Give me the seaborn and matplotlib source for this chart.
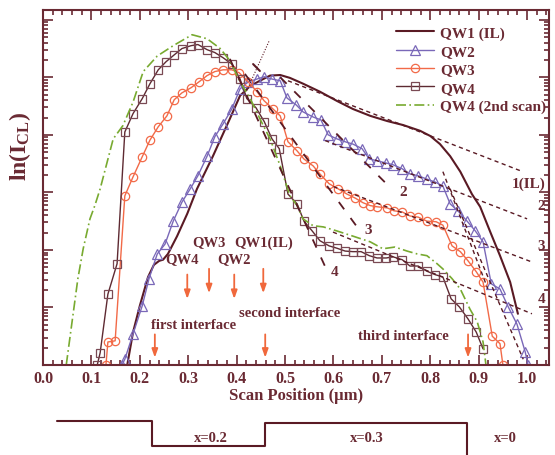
import numpy as np
import seaborn as sns
import matplotlib.pyplot as plt
import matplotlib.transforms as mtransforms

# values are log10 of intensity (decades)
qw1_x = [0.174, 0.186, 0.200, 0.217, 0.229, 0.240, 0.248, 0.258, 0.277, 0.298, 0.318, 0.351,
         0.386, 0.407, 0.428, 0.448, 0.469, 0.490, 0.510, 0.537, 0.572, 0.607, 0.640, 0.676,
         0.711, 0.744, 0.779, 0.800, 0.820, 0.841, 0.862, 0.886, 0.903, 0.924, 0.944, 0.965, 0.981]
qw1_y = [0.00, 0.57, 1.03, 1.53, 1.74, 1.81, 1.83, 1.93, 2.24, 2.63, 3.06, 3.63,
         4.28, 4.68, 4.85, 4.94, 5.03, 5.04, 4.99, 4.89, 4.75, 4.59, 4.45, 4.33,
         4.24, 4.17, 4.07, 3.98, 3.84, 3.63, 3.36, 2.97, 2.75, 2.31, 1.90, 1.44, 0.89]

qw2_x = [0.163, 0.169, 0.186, 0.205, 0.219, 0.236, 0.252, 0.269, 0.287, 0.304, 0.320, 0.339,
         0.355, 0.372, 0.390, 0.407, 0.424, 0.442, 0.457, 0.473, 0.490, 0.504, 0.523, 0.537,
         0.558, 0.574, 0.589, 0.607, 0.624, 0.640, 0.659, 0.674, 0.690, 0.709, 0.723, 0.742,
         0.758, 0.775, 0.793, 0.810, 0.826, 0.841, 0.857, 0.876, 0.893, 0.909, 0.926, 0.944,
         0.961, 0.979, 0.996, 1.002]
qw2_y = [0.00, 0.10, 0.54, 1.03, 1.50, 1.93, 2.10, 2.50, 2.83, 3.06, 3.29, 3.63,
         3.97, 4.19, 4.45, 4.80, 4.92, 4.97, 5.01, 4.97, 4.94, 4.64, 4.52, 4.40,
         4.31, 4.26, 4.00, 3.93, 3.88, 3.84, 3.76, 3.58, 3.55, 3.51, 3.48, 3.41,
         3.32, 3.29, 3.23, 3.18, 3.11, 2.80, 2.68, 2.50, 2.33, 2.14, 1.41, 1.32,
         1.01, 0.71, 0.23, 0.00]

qw3_x = [0.130, 0.134, 0.149, 0.169, 0.186, 0.205, 0.221, 0.238, 0.256, 0.271, 0.287, 0.306,
         0.322, 0.339, 0.355, 0.372, 0.390, 0.405, 0.424, 0.442, 0.457, 0.475, 0.490, 0.506,
         0.525, 0.539, 0.558, 0.572, 0.591, 0.610, 0.628, 0.645, 0.661, 0.676, 0.690, 0.711,
         0.725, 0.742, 0.758, 0.775, 0.793, 0.812, 0.826, 0.845, 0.862, 0.878, 0.895, 0.909,
         0.928, 0.944, 0.950]
qw3_y = [0.00, 0.40, 0.42, 2.94, 3.27, 3.62, 3.91, 4.14, 4.33, 4.61, 4.73, 4.82,
         4.92, 5.03, 5.10, 5.13, 5.13, 5.08, 4.92, 4.75, 4.59, 4.45, 4.33, 3.88,
         3.72, 3.58, 3.46, 3.32, 3.15, 3.06, 2.97, 2.90, 2.82, 2.77, 2.75, 2.73,
         2.68, 2.66, 2.59, 2.57, 2.50, 2.49, 2.43, 2.07, 1.97, 1.81, 1.62, 1.44,
         0.50, 0.37, 0.00]

qw4_x = [0.112, 0.118, 0.134, 0.153, 0.169, 0.186, 0.205, 0.221, 0.238, 0.254, 0.271, 0.287,
         0.306, 0.320, 0.339, 0.355, 0.372, 0.390, 0.407, 0.421, 0.440, 0.457, 0.473, 0.488,
         0.506, 0.525, 0.539, 0.556, 0.572, 0.591, 0.607, 0.624, 0.640, 0.657, 0.674, 0.690,
         0.709, 0.723, 0.742, 0.758, 0.775, 0.793, 0.810, 0.826, 0.843, 0.860, 0.878, 0.895,
         0.909]
qw4_y = [0.00, 0.21, 1.23, 1.76, 4.05, 4.37, 4.63, 4.89, 5.13, 5.27, 5.39, 5.50,
         5.55, 5.57, 5.48, 5.43, 5.34, 5.23, 4.97, 4.63, 4.47, 4.23, 3.93, 3.76,
         2.97, 2.80, 2.50, 2.33, 2.16, 2.07, 2.03, 1.98, 1.97, 1.97, 1.90, 1.86,
         1.86, 1.88, 1.83, 1.72, 1.72, 1.63, 1.57, 1.53, 1.15, 1.01, 0.80, 0.57,
         0.28]

qw4b_x = [0.048, 0.060, 0.072, 0.083, 0.097, 0.107, 0.118, 0.145, 0.165, 0.186, 0.207, 0.236,
          0.269, 0.308, 0.339, 0.366, 0.386, 0.407, 0.428, 0.448, 0.469, 0.490, 0.510, 0.525,
          0.537, 0.558, 0.579, 0.607, 0.640, 0.676, 0.702, 0.727, 0.752, 0.773, 0.793, 0.814,
          0.826, 0.845, 0.862, 0.882, 0.897, 0.909, 0.915]
qw4b_y = [0.00, 0.75, 1.50, 2.02, 2.54, 2.77, 3.06, 3.93, 4.16, 4.57, 5.10, 5.37,
          5.55, 5.74, 5.67, 5.50, 5.29, 4.92, 4.63, 4.28, 3.93, 3.46, 2.94, 2.77,
          2.54, 2.42, 2.40, 2.33, 2.24, 2.14, 2.02, 2.05, 1.98, 1.93, 1.90, 1.76,
          1.67, 1.50, 1.32, 0.97, 0.75, 0.40, 0.00]

# fitted slopes
fit_short = {
    "1(IL)": ([0.506, 0.991], [4.94, 3.36]),
    "2": ([0.583, 1.000], [3.90, 2.54]),
    "3": ([0.600, 1.010], [3.10, 1.79]),
    "4": ([0.599, 1.010], [2.31, 0.89]),
}
fit_long = {
    "2": ([0.490, 0.720], [5.00, 3.06]),
    "3": ([0.417, 0.647], [5.06, 2.42]),
    "4": ([0.386, 0.585], [5.32, 1.67]),
}
fit_edge = [([0.826, 0.919], [3.36, 1.32]), ([0.841, 0.992], [3.06, 0.10])]
tangent = ([0.421, 0.467], [4.77, 5.63])

# arrows: QW peak positions and interfaces
peak_names = ["QW4", "QW3", "QW2", "QW1(IL)"]
peak_pos = [0.298, 0.343, 0.395, 0.455]
interface_names = ["first interface", "second interface", "third interface"]
interface_pos = [0.231, 0.459, 0.878]

# composition profile drawn under the axis
profile_x = [0.029, 0.225, 0.225, 0.458, 0.458, 0.875, 0.875]
profile_y = [-0.158, -0.158, -0.228, -0.228, -0.163, -0.163, -0.26]
comp_labels = ["x=0.2", "x=0.3", "x=0"]
comp_pos = [0.347, 0.669, 0.955]

maroon = "#6a2a33"
c_qw1 = "#5a1a24"
c_qw2 = "#7a68b8"
c_qw3 = "#f26a48"
c_qw4 = "#5e2a32"
c_qw4b = "#78aa30"
c_arrow = "#f0683c"

sns.set_style("ticks")
plt.rcParams["font.family"] = ["Liberation Serif", "DejaVu Serif"]
plt.rcParams["font.weight"] = "bold"
plt.rcParams["mathtext.fontset"] = "custom"
plt.rcParams["mathtext.bf"] = "Liberation Serif:bold"
plt.rcParams["mathtext.rm"] = "Liberation Serif:bold"

fig = plt.figure(figsize=(5.55, 4.56), dpi=100)
ax = fig.add_axes([0.0775, 0.1974, 0.9115, 0.7785])

sns.lineplot(x=qw1_x, y=np.power(10, qw1_y), ax=ax, color=c_qw1, lw=1.5, label="QW1 (IL)")
sns.lineplot(x=qw2_x, y=np.power(10, qw2_y), ax=ax, color=c_qw2, lw=1.0, marker="^", ms=6.5,
             mfc="none", mec=c_qw2, mew=0.9, label="QW2")
sns.lineplot(x=qw3_x, y=np.power(10, qw3_y), ax=ax, color=c_qw3, lw=1.0, marker="o", ms=6,
             mfc="none", mec=c_qw3, mew=0.9, label="QW3")
sns.lineplot(x=qw4_x, y=np.power(10, qw4_y), ax=ax, color=c_qw4, lw=1.0, marker="s", ms=5.5,
             mfc="none", mec="#7a4a54", mew=0.9, label="QW4")
sns.lineplot(x=qw4b_x, y=np.power(10, qw4b_y), ax=ax, color=c_qw4b, lw=1.2,
             label="QW4 (2nd scan)")
ax.lines[-1].set_dashes([6, 2, 1, 2])

for name, (fx, fy) in fit_short.items():
    ax.plot(fx, np.power(10, fy), color=c_qw1, lw=1.0, dashes=(3, 2.5))
for name, (fx, fy) in fit_long.items():
    ax.plot(fx, np.power(10, fy), color=c_qw1, lw=1.3, dashes=(5, 6))
for fx, fy in fit_edge:
    ax.plot(fx, np.power(10, fy), color=c_qw1, lw=1.0, dashes=(3, 2.5))
ax.plot(tangent[0], np.power(10, tangent[1]), color=c_qw1, lw=0.8, dashes=(1, 1.5))
ax.plot([0.434, 0.448], np.power(10, [5.23, 5.11]), color=c_qw1, lw=1.5)

# labels of fitted lines
ax.text(1.037, 10 ** 3.15, "1(IL)", ha="right", va="center", color=maroon, fontsize=11)
ax.text(1.037, 10 ** 2.77, "2", ha="right", va="center", color=maroon, fontsize=11)
ax.text(1.037, 10 ** 2.07, "3", ha="right", va="center", color=maroon, fontsize=11)
ax.text(1.037, 10 ** 1.15, "4", ha="right", va="center", color=maroon, fontsize=11)
ax.text(0.744, 10 ** 3.01, "2", ha="center", va="center", color=maroon, fontsize=11)
ax.text(0.671, 10 ** 2.35, "3", ha="center", va="center", color=maroon, fontsize=11)
ax.text(0.603, 10 ** 1.62, "4", ha="center", va="center", color=maroon, fontsize=11)

arrow_kw = dict(arrowstyle="-|>,head_length=0.5,head_width=0.18", color=c_arrow, lw=1.3)
peak_text_y = [1.84, 2.14, 1.84, 2.14]
peak_tail = [1.62, 1.72, 1.62, 1.72]
for name, px, ty, tail in zip(peak_names, peak_pos, peak_text_y, peak_tail):
    ax.text(px - 0.01 if name == "QW4" else px, 10 ** ty, name, ha="center", va="center",
            color=maroon, fontsize=10.5)
    ax.annotate("", xy=(px, 10 ** (tail - 0.52)), xytext=(px, 10 ** tail), arrowprops=arrow_kw)

interface_text = [(0.312, 0.71), (0.510, 0.92), (0.745, 0.52)]
for name, px, (tx, ty) in zip(interface_names, interface_pos, interface_text):
    ax.text(tx, 10 ** ty, name, ha="center", va="center", color=maroon, fontsize=10.5)
    ax.annotate("", xy=(px, 10 ** 0.08), xytext=(px, 10 ** 0.58), arrowprops=arrow_kw)

ax.set_yscale("log")
ax.set_xlim(0, 1.045)
ax.set_ylim(1, 10 ** 6.17)
ax.set_xticks(np.arange(0, 1.01, 0.1))
ax.set_xticks(np.arange(0, 1.045, 0.02), minor=True)
ax.set_xticklabels(["%.1f" % v for v in np.arange(0, 1.01, 0.1)], fontweight="bold")
ax.yaxis.set_major_locator(plt.LogLocator(base=10, numticks=20))
ax.yaxis.set_minor_locator(plt.LogLocator(base=10, subs=np.arange(2, 10), numticks=20))
ax.yaxis.set_major_formatter(plt.NullFormatter())
ax.yaxis.set_minor_formatter(plt.NullFormatter())
ax.tick_params(which="both", direction="in", top=True, right=True, color=maroon,
               labelcolor=maroon, labelsize=11.5, width=1.2)
ax.tick_params(which="major", length=7)
ax.tick_params(which="minor", length=3.5)
for sp in ax.spines.values():
    sp.set_color(maroon)
    sp.set_linewidth(1.5)

ax.set_xlabel("Scan Position (\u03bcm)", color=maroon, fontsize=12, fontweight="bold",
              labelpad=1)
ax.set_ylabel(r"$\mathbf{ln(I_{CL})}$", color=maroon, fontsize=17)
ax.yaxis.set_label_coords(-0.02, 0.62)

leg = ax.legend(loc="upper right", bbox_to_anchor=(0.995, 0.955), frameon=False,
                borderaxespad=0, borderpad=0, handlelength=2.5, handletextpad=0.4,
                labelspacing=0.3, prop={"size": 11, "weight": "bold"})
for t in leg.get_texts():
    t.set_color(maroon)

trans = mtransforms.blended_transform_factory(ax.transData, ax.transAxes)
ax.plot(profile_x, profile_y, color=c_qw1, lw=1.5, transform=trans, clip_on=False)
for lab, px in zip(comp_labels, comp_pos):
    ax.text(px, -0.205, lab, transform=trans, ha="center", va="center", color=maroon,
            fontsize=10.5)

fig.savefig("out.png", dpi=100)
